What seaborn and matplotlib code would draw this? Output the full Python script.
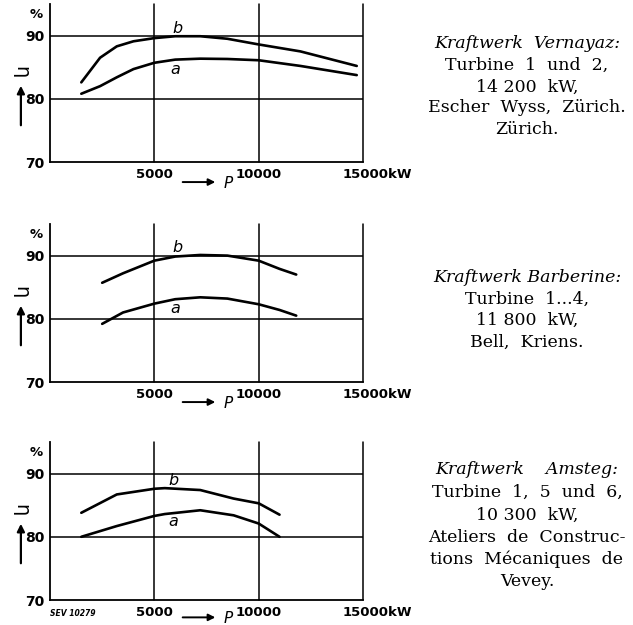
import numpy as np
import pandas as pd
import seaborn as sns
import matplotlib.pyplot as plt

# values (P in kW, eta in %)
p_vern = [1500, 2400, 3200, 4000, 5000, 6000, 7200, 8500, 10000, 12000, 14700]
eta_vern_b = [82.6, 86.5, 88.3, 89.1, 89.6, 89.9, 89.9, 89.5, 88.6, 87.5, 85.2]
eta_vern_a = [80.8, 82.0, 83.4, 84.7, 85.7, 86.2, 86.35, 86.3, 86.1, 85.2, 83.75]

p_barb = [2500, 3500, 5000, 6000, 7200, 8500, 10000, 11000, 11800]
eta_barb_b = [85.7, 87.2, 89.2, 89.85, 90.1, 90.0, 89.2, 87.9, 87.0]
eta_barb_a = [79.2, 81.0, 82.4, 83.1, 83.4, 83.2, 82.3, 81.4, 80.5]

p_amst = [1500, 3200, 5000, 5500, 7200, 8800, 10000, 11000]
eta_amst_b = [83.8, 86.7, 87.6, 87.7, 87.4, 86.05, 85.3, 83.5]
eta_amst_a = [80.0, 81.7, 83.3, 83.6, 84.2, 83.4, 82.1, 80.0]

x_ticks = [5000, 10000]
y_ticks = [70, 80, 90]

text_vern = ["Kraftwerk  Vernayaz:", "Turbine  1  und  2,", "14 200  kW,",
             "Escher  Wyss,  Zürich.", "Zürich."]
text_barb = ["Kraftwerk Barberine:", "Turbine  1...4,", "11 800  kW,", "Bell,  Kriens."]
text_amst = ["Kraftwerk    Amsteg:", "Turbine  1,  5  und  6,", "10 300  kW,",
             "Ateliers  de  Construc-", "tions  Mécaniques  de", "Vevey."]

panels = [
    dict(p=p_vern, b=eta_vern_b, a=eta_vern_a, lab_b=(6100, 91.2), lab_a=(6000, 84.7),
         bottom=162, arrow_y=-0.127, text=text_vern, text_y=[43, 65, 87, 108, 130]),
    dict(p=p_barb, b=eta_barb_b, a=eta_barb_a, lab_b=(6100, 91.3), lab_a=(6000, 81.7),
         bottom=382, arrow_y=-0.127, text=text_barb, text_y=[277, 299, 320, 342]),
    dict(p=p_amst, b=eta_amst_b, a=eta_amst_a, lab_b=(5900, 88.9), lab_a=(5900, 82.4),
         bottom=600, arrow_y=-0.11, text=text_amst, text_y=[469, 492, 515, 537, 559, 581]),
]

sns.set_style("white")
plt.rcParams['font.family'] = ['DejaVu Sans']
plt.rcParams['text.color'] = 'black'
plt.rcParams['xtick.color'] = 'black'
plt.rcParams['ytick.color'] = 'black'

W, H = 633, 625
fig = plt.figure(figsize=(W / 100, H / 100), dpi=100)

for i, pan in enumerate(panels):
    ax = fig.add_axes([50 / W, 1 - pan["bottom"] / H, 313 / W, 158 / H])
    df = pd.DataFrame({
        "P": pan["p"] * 2,
        "eta": pan["b"] + pan["a"],
        "curve": ["b"] * len(pan["p"]) + ["a"] * len(pan["p"]),
    })
    sns.lineplot(data=df, x="P", y="eta", hue="curve", palette={"a": "black", "b": "black"},
                 estimator=None, sort=False, legend=False, lw=1.9, ax=ax)

    ax.set_xlim(0, 15000)
    ax.set_ylim(70, 95)
    for y in [80, 90]:
        ax.axhline(y, color="black", lw=1.1)
    for x in [5000, 10000, 15000]:
        ax.axvline(x, color="black", lw=1.1, clip_on=False)
    for s in ["top", "right"]:
        ax.spines[s].set_visible(False)
    for s in ["left", "bottom"]:
        ax.spines[s].set_color("black")
        ax.spines[s].set_linewidth(1.3)

    ax.set_xticks(x_ticks)
    ax.set_xticklabels([str(t) for t in x_ticks], fontsize=9.5, fontweight="bold")
    ax.set_yticks(y_ticks)
    ax.set_yticklabels([str(t) for t in y_ticks], fontsize=10, fontweight="bold")
    ax.tick_params(length=0, pad=4, colors="black")
    ax.set_xlabel("")
    ax.set_ylabel("")

    ax.annotate("15000kW", xy=(15000, 0), xycoords=("data", "axes fraction"),
                xytext=(-14.5, -4), textcoords="offset points", ha="left", va="top",
                fontsize=9.5, fontweight="bold", color="black")

    ax.text(*pan["lab_b"], "b", fontsize=11.5, style="italic", ha="center", va="center",
            color="black")
    ax.text(*pan["lab_a"], "a", fontsize=11.5, style="italic", ha="center", va="center",
            color="black")

    # P arrow under the axis
    ay = pan["arrow_y"]
    ax.annotate("", xy=(0.537, ay), xytext=(0.415, ay), xycoords="axes fraction",
                arrowprops=dict(arrowstyle="-|>", color="black", lw=1.4, mutation_scale=10),
                annotation_clip=False)
    ax.text(0.568, ay - 0.008, "P", transform=ax.transAxes, fontsize=11, style="italic",
            ha="center", va="center", color="black")

    # eta arrow left of the axis
    ax.annotate("", xy=(-0.093, 0.5), xytext=(-0.093, 0.215), xycoords="axes fraction",
                arrowprops=dict(arrowstyle="-|>", color="black", lw=1.6, mutation_scale=11),
                annotation_clip=False)
    ax.text(-0.093, 0.57, "η", transform=ax.transAxes, fontsize=14, rotation=-90,
            ha="center", va="center", color="black")
    ax.text(-0.045, 0.935, "%", transform=ax.transAxes, fontsize=9.5, fontweight="bold",
            ha="center", va="center", color="black")

    if i == 2:
        ax.text(0.0, -0.085, "SEV 10279", transform=ax.transAxes, fontsize=5.5,
                style="italic", fontweight="bold", ha="left", va="center", color="black")

    for j, (line, ty) in enumerate(zip(pan["text"], pan["text_y"])):
        fig.text(527 / W, 1 - ty / H, line, family="DejaVu Serif", fontsize=12.5,
                 style="italic" if j == 0 else "normal", ha="center", va="center",
                 color="black")

fig.savefig("out.png", dpi=100)
